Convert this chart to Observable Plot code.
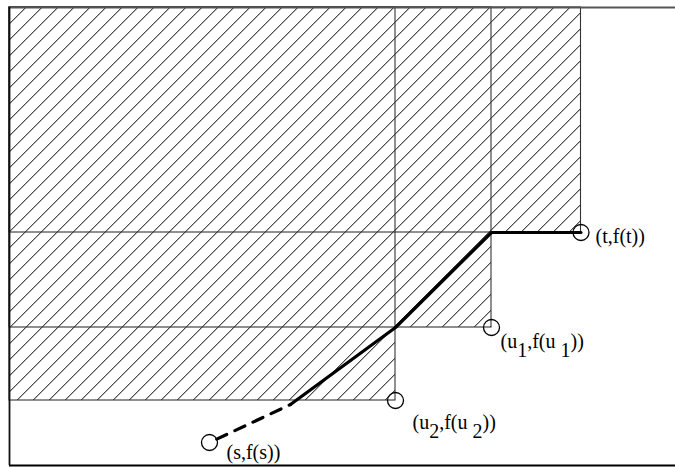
<!DOCTYPE html>
<html><head><meta charset="utf-8">
<script src="https://cdn.jsdelivr.net/npm/d3@7"></script>
<script src="https://cdn.jsdelivr.net/npm/@observablehq/plot@0.6"></script>
<style>body{margin:0;background:#fff}#chart svg{display:block}</style>
</head><body><div id="chart"></div>
<script>
// Abstract coordinates (x to the right, y upwards)
const rectCornerX = [386, 482, 571.5];   // right edges of the three hatched regions
const rectCornerY = [65, 138, 233];      // bottom edges of the three hatched regions
const pointNames = ["s", "u2", "u1", "t"];
const pointX = [200, 386, 482, 571.5];
const pointY = [23, 65, 138, 233];
const pointLabels = ["(s,f(s))", "(u_2,f(u _2))", "(u_1,f(u _1))", "(t,f(t))"];
const pathX = [281, 386, 482, 571.5];    // solid part of the curve
const pathY = [61, 138, 233, 233];
const domainX = [0, 666];
const domainY = [0, 458];

const rects = rectCornerX.map((x, i) => ({x1: domainX[0], x2: x, y1: rectCornerY[i], y2: domainY[1]}));
// disjoint bands of the union (so the hatch is drawn once everywhere)
const bands = rectCornerX.map((x, i) => ({x1: domainX[0], x2: x, y1: rectCornerY[i],
  y2: i + 1 < rectCornerY.length ? rectCornerY[i + 1] : domainY[1]}));
const points = pointNames.map((n, i) => ({name: n, x: pointX[i], y: pointY[i], label: pointLabels[i]}));
const path = pathX.map((x, i) => ({x, y: pathY[i]}));
const dashed = [{x1: pointX[0], y1: pointY[0], x2: pathX[0], y2: pathY[0]}];

const labelOffsets = {s: [17, 10], u2: [17, 22], u1: [9, 14], t: [14.5, 4]};

const svg = Plot.plot({
  width: 675, height: 467,
  marginLeft: 9, marginRight: 0, marginTop: 7, marginBottom: 2,
  x: {domain: domainX, axis: null},
  y: {domain: domainY, axis: null},
  style: {background: "#fff"},
  marks: [
    Plot.rect(bands, {x1: "x1", x2: "x2", y1: "y1", y2: "y2", fill: "url(#hatch)"}),
    Plot.rect(rects, {x1: "x1", x2: "x2", y1: "y1", y2: "y2", fill: "none", stroke: "#333", strokeWidth: 1.1}),
    Plot.ruleY([domainY[1]], {stroke: "#555", strokeWidth: 1.8}),
    Plot.ruleY([domainY[0]], {stroke: "#000", strokeWidth: 2}),
    Plot.ruleX([domainX[0]], {stroke: "#111", strokeWidth: 1.8}),
    Plot.line(path, {x: "x", y: "y", stroke: "#000", strokeWidth: 3.2, strokeLinejoin: "round"}),
    Plot.arrow(dashed, {x1: "x1", y1: "y1", x2: "x2", y2: "y2", headLength: 0, insetStart: 8, stroke: "#000", strokeWidth: 3.2, strokeDasharray: "11,9"}),
    Plot.dot(points, {x: "x", y: "y", r: 8, stroke: "#000", strokeWidth: 1.3, fill: "none"}),
    ...points.map(p => Plot.text([p], {x: "x", y: "y", text: "label", textAnchor: "start",
      dx: labelOffsets[p.name][0], dy: labelOffsets[p.name][1],
      fontFamily: "Liberation Serif", fontSize: 20, fill: "#000"}))
  ]
});

// hatch pattern definition
const defs = d3.select(svg).insert("defs", ":first-child");
const pat = defs.append("pattern").attr("id", "hatch").attr("patternUnits", "userSpaceOnUse")
  .attr("width", 16).attr("height", 16).attr("x", 1.3).attr("y", 0);
pat.append("path").attr("d", "M0,16L16,0M-2,2L2,-2M14,18L18,14")
  .attr("stroke", "#000").attr("stroke-width", 1).attr("fill", "none")
  .attr("shape-rendering", "crispEdges");

// subscripts
d3.select(svg).selectAll("text").each(function () {
  const s = this.textContent;
  if (!s.includes("_")) return;
  const el = d3.select(this);
  el.text(null);
  const parts = s.split(/_(\d)/);
  parts.forEach((p, i) => {
    if (!p) return;
    const sub = i % 2 === 1;
    const t = el.append("tspan").text(p);
    if (sub) t.attr("dy", "0.45em");
    else if (i > 0) t.attr("dy", "-0.45em");
  });
});

document.getElementById("chart").appendChild(svg);
</script>
</body></html>
